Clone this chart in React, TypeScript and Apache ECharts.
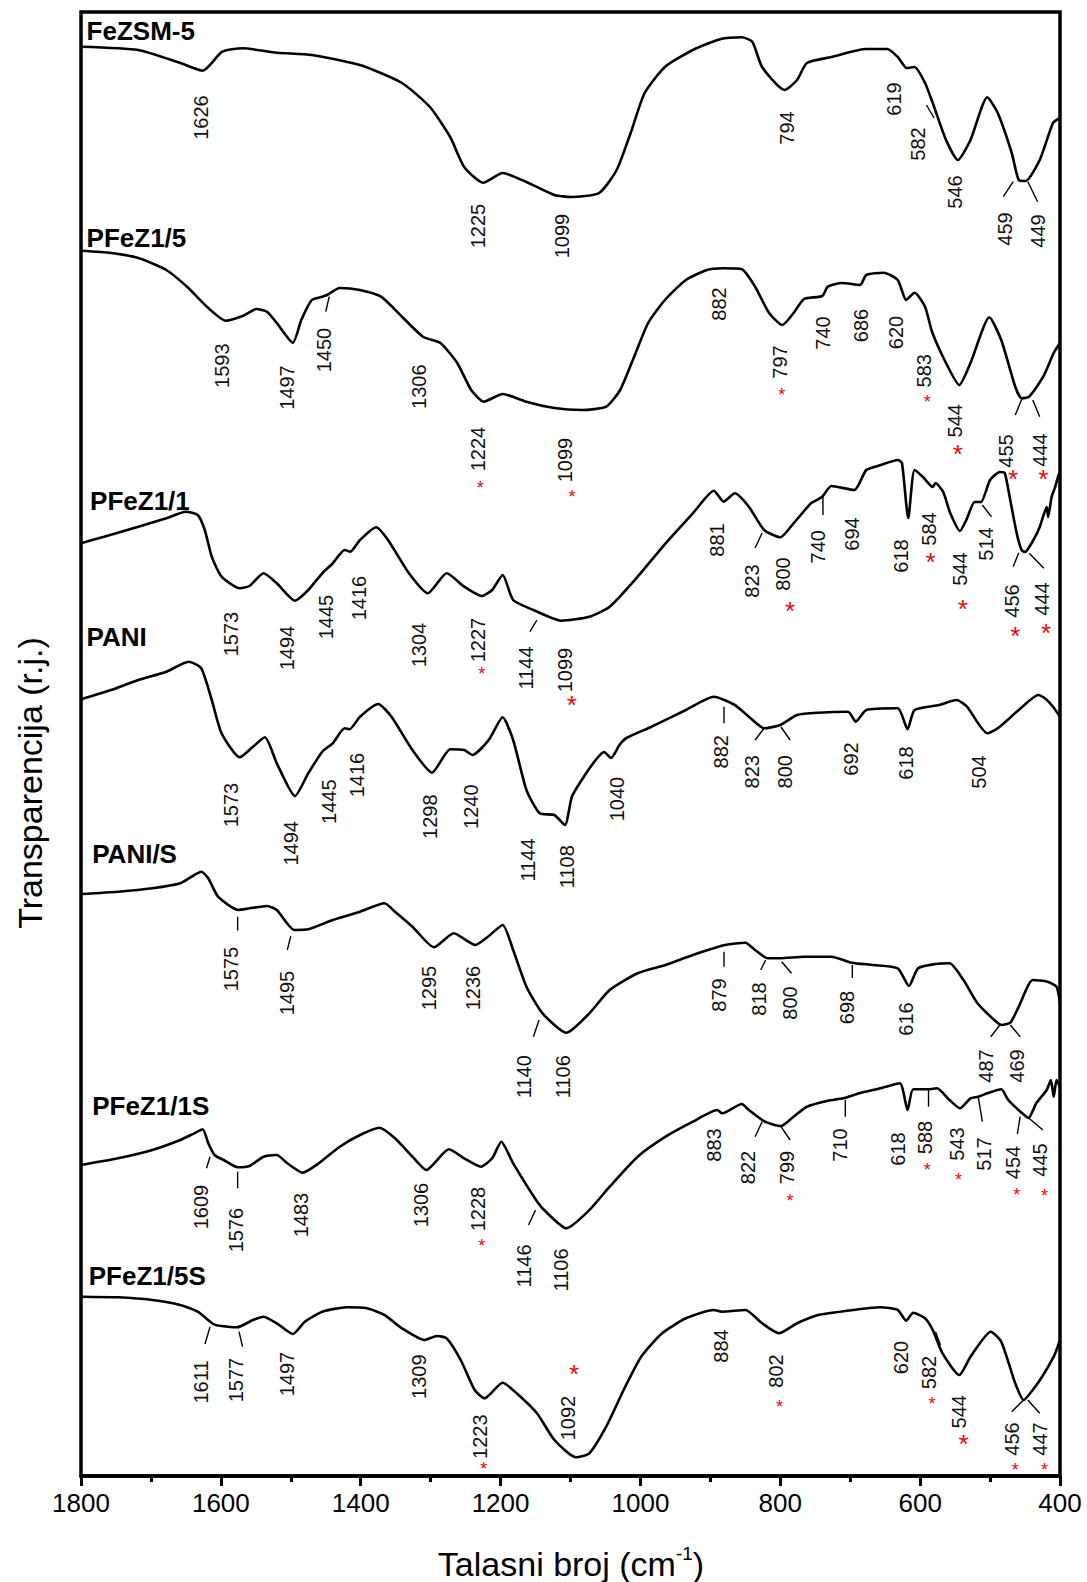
import React, { useEffect, useRef } from 'react';
import * as echarts from 'echarts';

const FONT = '"Liberation Sans", Arial, Helvetica, sans-serif';

// wavenumber (cm-1), transmittance position (relative units, axis inverted)
const feZSM5: number[][] = [[1800,46.7],[1718,50],[1658,63],[1626,70.7],[1598,51.7],[1569,48.3],[1520,52.7],[1470,55],[1401,65],[1341,83],[1301,107],[1272,137],[1252,167],[1225,182.7],[1197,173],[1163,182],[1123,195],[1099,197],[1059,193],[1034,170],[1014,133],[994,93],[965,67],[925,50],[885,39],[855,37.3],[840,41.7],[826,67],[794,90],[776,80],[762,63],[727,57],[677,49],[647,49],[632,57],[619,68],[608,67],[593,83],[582,103],[563,140],[546,160],[528,140],[504,97.3],[489,113],[469,153],[459,180],[449,181],[429,160],[410,123],[400,118]];

const pFeZ15: number[][] = [[1800,250.7],[1757,253],[1718,258],[1678,270],[1648,287],[1618,308],[1593,320.7],[1569,316],[1549,309],[1534,311.7],[1520,323],[1497,342.7],[1485,320],[1470,300],[1455,296.7],[1448,295],[1430,288],[1401,290],[1371,296.7],[1341,316.7],[1311,336.7],[1286,343],[1262,363],[1242,390],[1224,401.7],[1197,394],[1163,401.7],[1123,408],[1084,410],[1049,406.7],[1029,390],[1009,356.7],[989,323],[965,300],[935,280],[905,270],[882,268.3],[855,269.3],[836,286.7],[816,313],[797,325],[781,313],[766,299],[740,296],[732,286.7],[712,283],[686,285],[677,275],[652,272.7],[632,280],[620,300],[608,292.7],[593,306.7],[583,331.7],[563,363],[544,385],[528,363],[501,317.3],[484,340],[464,386.7],[455,398.3],[444,396.7],[424,376.7],[409,353],[400,343]];

const pFeZ11: number[][] = [[1800,543.3],[1767,536.7],[1718,526.7],[1678,518.3],[1650,511.7],[1633,515],[1623,530],[1613,556.7],[1599,576.7],[1573,588.3],[1559,586],[1539,573.3],[1520,583.3],[1494,600.7],[1475,590],[1455,573.3],[1440,563.3],[1423,550],[1415,551.7],[1401,540],[1378,527.3],[1361,540],[1331,573.3],[1304,593.3],[1277,573.3],[1252,586.7],[1227,596],[1212,590],[1197,575],[1182,600],[1153,610],[1113,620.7],[1073,616.7],[1044,606.7],[1004,576.7],[964,543.3],[925,513.3],[895,490.7],[881,501.7],[865,493.3],[845,506.7],[823,530],[800,537.3],[781,523.3],[756,503.3],[740,496.7],[727,486],[694,490],[677,470],[656,465],[632,460],[626,463],[617,518],[608,470],[596,477],[582,487],[578,483],[567,492],[557,513],[543,531],[534,520],[522,502],[513,502],[500,480],[486,472],[479,473],[472,497],[462,533],[455,550],[450,552],[438,540],[429,527],[419,507],[417,517],[412,497],[407,487],[402,475],[400,472]];

const pani: number[][] = [[1800,699.3],[1757,690],[1718,680],[1678,671.7],[1646,661.7],[1628,668.3],[1613,700],[1599,733.3],[1573,757.3],[1554,746.7],[1537,737.3],[1520,763.3],[1494,796],[1475,773.3],[1455,751.7],[1440,743.3],[1423,728.3],[1416,729.3],[1401,716.7],[1375,704],[1356,716.7],[1326,750],[1298,772.7],[1272,749.3],[1252,750],[1240,755],[1217,740],[1197,717.3],[1182,740],[1163,790],[1144,813.3],[1123,815],[1108,825],[1098,796.7],[1084,780],[1064,760],[1052,752],[1042,758],[1030,745],[1020,738],[984,726.7],[935,710],[895,696.7],[865,705],[845,716.7],[823,728.3],[800,725],[776,715],[746,712.7],[703,711.7],[692,721.7],[677,710],[632,708.3],[618,729.3],[608,710],[573,705],[548,700],[533,706.7],[504,733.3],[489,728.3],[459,710],[431,695],[420,699.3],[410,706.7],[400,716.7]];

const paniS: number[][] = [[1800,894],[1747,891.7],[1698,888.3],[1658,883.3],[1638,875],[1628,871.7],[1618,878.3],[1604,896.7],[1575,910],[1559,908.3],[1534,906],[1520,910],[1495,930],[1475,929.3],[1440,920],[1401,911.7],[1366,903.3],[1351,911.7],[1326,926.7],[1295,947.3],[1267,933.3],[1236,945],[1218,936.7],[1197,925],[1182,950],[1163,986.7],[1140,1013.3],[1106,1032.7],[1073,1013.3],[1044,990],[1004,973.3],[964,965],[925,955],[879,945],[850,942.7],[836,950],[818,958.3],[800,958.3],[766,956.7],[727,956.7],[698,962.7],[667,965],[632,968.3],[616,986],[603,968.3],[578,964],[558,963.3],[538,980],[518,1003.3],[494,1020],[484,1025],[471,1022.7],[459,1006.7],[439,980],[418,981.7],[405,986.7],[400,1003.3]];

const pFeZ11S: number[][] = [[1800,1165],[1747,1158.3],[1698,1150],[1658,1140],[1638,1133.3],[1626,1129.3],[1618,1143.3],[1609,1155],[1596,1160],[1576,1167.3],[1559,1166],[1539,1156.7],[1520,1155],[1505,1163.3],[1483,1172.7],[1460,1163.3],[1430,1146.7],[1401,1135],[1373,1127.7],[1351,1138.3],[1326,1156.7],[1306,1170],[1274,1149.3],[1252,1158.3],[1228,1166.7],[1212,1158.3],[1199,1141.7],[1182,1163.3],[1146,1203.3],[1133,1213.3],[1106,1228.3],[1073,1210],[1044,1186.7],[1004,1156.7],[964,1136.7],[925,1121.7],[890,1110],[883,1113.3],[855,1104],[845,1110],[822,1121.7],[799,1126],[781,1116.7],[762,1106.7],[732,1100.7],[710,1098.3],[687,1093.3],[657,1088.3],[629,1083.3],[618,1110],[610,1089.3],[588,1089.3],[576,1088.3],[558,1100],[543,1108.3],[528,1098.3],[517,1096.7],[504,1093.3],[484,1089.3],[474,1100],[454,1113.3],[445,1118],[434,1103.3],[419,1090],[413,1080],[409,1096.7],[405,1080],[400,1086.7]];

const pFeZ15S: number[][] = [[1800,1296.7],[1747,1297.3],[1698,1300],[1658,1305],[1633,1311.7],[1611,1324],[1599,1326],[1577,1327.3],[1554,1320],[1539,1316.7],[1520,1323.3],[1497,1334],[1480,1321.7],[1455,1311.7],[1420,1307.3],[1391,1308.3],[1366,1315],[1341,1328.3],[1309,1340],[1291,1336],[1277,1338.3],[1257,1360],[1237,1390],[1223,1398.3],[1197,1382.7],[1177,1393.3],[1148,1413.3],[1123,1440],[1092,1457.3],[1073,1453.3],[1049,1426.7],[1024,1390],[999,1356.7],[969,1333.3],[935,1318.3],[895,1310],[884,1311.7],[850,1310],[826,1323.3],[802,1333.3],[776,1323.3],[746,1315],[707,1311],[657,1307.3],[632,1310],[620,1320.7],[610,1312.7],[593,1318.3],[582,1330],[568,1353.3],[544,1375],[528,1356.7],[499,1331.7],[484,1341.7],[464,1383.3],[452,1400],[439,1390],[424,1375],[409,1356.7],[405,1350],[400,1340]];

const spectra = [feZSM5, pFeZ15, pFeZ11, pani, paniS, pFeZ11S, pFeZ15S];
const sampleNames = ['FeZSM-5', 'PFeZ1/5', 'PFeZ1/1', 'PANI', 'PANI/S', 'PFeZ1/1S', 'PFeZ1/5S'];
const namePositions: number[][] = [[1792,31],[1792,237.5],[1787,501],[1792,637],[1784,854],[1784,1106],[1789,1276]];

// peak labels: [wavenumber position, vertical position, text]
const peakLabels: [number, number, string][] = [
  [1628,117.5,'1626'],[1232,226,'1225'],[1112,236,'1099'],[791,128,'794'],[637,99,'619'],[603,144,'582'],[550,192,'546'],[479,229,'459'],[432,231,'449'],
  [1599,365.7,'1593'],[1505,387.5,'1497'],[1452,350,'1450'],[1317,386.7,'1306'],[1232,449,'1224'],[1108,460,'1099'],[888,304,'882'],[801,362,'797'],[739,333,'740'],[684,325.5,'686'],[634,332.5,'620'],[595,370.8,'583'],[550,420.8,'544'],[477,451,'455'],[429,450,'444'],
  [1586,634,'1573'],[1505,648,'1494'],[1450,617,'1445'],[1403,598,'1416'],[1316,645,'1304'],[1232,640,'1227'],[1163,668,'1144'],[1108,670,'1099'],[890,540,'881'],[840,581,'823'],[796,574,'800'],[746,546.7,'740'],[697,534,'694'],[627,556,'618'],[588,529,'584'],[543,569,'544'],[506,544,'514'],[469,601,'456'],[426,599,'444'],
  [1586,805,'1573'],[1500,843.3,'1494'],[1445,801.7,'1445'],[1405,775,'1416'],[1301,816.7,'1298'],[1242,806.7,'1240'],[1161,860,'1144'],[1105,866.7,'1108'],[1034,799,'1040'],[885,751.7,'882'],[840,771.7,'823'],[793,771.7,'800'],[699,759,'692'],[620,763,'618'],[516,772,'504'],
  [1586,969,'1575'],[1505,993,'1495'],[1303,988,'1295'],[1239,988,'1236'],[1166,1076.7,'1140'],[1111,1076.7,'1106'],[887,995,'879'],[831,999,'818'],[786,1003,'800'],[705,1007.5,'698'],[620,1019,'616'],[506,1066,'487'],[461,1066,'469'],
  [1628,1207,'1609'],[1579,1230,'1576'],[1485,1215,'1483'],[1314,1205,'1306'],[1232,1209,'1228'],[1166,1266,'1146'],[1113,1270,'1106'],[895,1145,'883'],[846,1167.5,'822'],[791,1167.5,'799'],[715,1145,'710'],[632,1149,'618'],[593,1137.5,'588'],[548,1144,'543'],[509,1154,'517'],[467,1162.5,'454'],[429,1160,'445'],
  [1628,1382,'1611'],[1579,1380,'1577'],[1505,1374,'1497'],[1316,1376.7,'1309'],[1230,1436.7,'1223'],[1103,1418,'1092'],[885,1346,'884'],[806,1371,'802'],[627,1357.5,'620'],[588,1372.5,'582'],[545,1411.7,'544'],[469,1439,'456'],[429,1439,'447'],
];

// red asterisks: [wavenumber position, vertical position, big(1)/small(0)]
const stars: number[][] = [
  [1229,484.5,0],[1098,492.6,0],[798,391,0],[590,398,0],[546,448,1],[467,473,1],[424,473,1],
  [1227,670,0],[1098,699,1],[786,605,1],[585,556,1],[539,603,1],[464,630,1],[420,627,1],
  [1227,1241.7,0],[786,1196.7,0],[590,1166,0],[545,1176,0],[462,1190.7,0],[422,1191.7,0],
  [1224,1465,0],[1095,1368.3,1],[801,1403.3,0],[583,1400,0],[538,1438.3,1],[464,1466,0],[422,1466,0],
];

// leader lines: [w1, v1, w2, v2]
const leaders: number[][] = [
  [591,105,580,118],[467,181.7,481,196.7],[446,181.7,432,201.7],
  [1445,296.7,1450,311.7],[454,398,464,415],[439,400,429,416.7],
  [1148,620,1158,631.7],[826,533,836,548],[739,496.7,739,515],[511,505,498,516.7],[459,552.7,467,566.7],[444,553.3,423,568.3],
  [880.5,706.7,880.5,723.3],[823,728,836,740],[799,727,786,740],
  [1576,916.7,1576,930.7],[1500,936,1505,950],[1145,1020,1153,1036.7],[880.5,951.7,880.5,966.7],[821,960,828,970],[798,961.7,784,973.3],[697,965,697,978],[486,1025,499,1036.7],[471,1025,457,1036.7],
  [1615.5,1156.7,1620.5,1168.3],[1576,1171.7,1576,1188.3],[1150,1210,1160,1225],[826,1121.7,836,1136.7],[799,1126.7,786,1140],[707,1100,707,1116.7],[588,1088,588,1106.7],[517,1096.7,511,1121.7],[457,1116.7,461,1134],[444.4,1118.3,424.4,1130],
  [1615.5,1327,1622.7,1344],[1574,1331.7,1569,1346.7],[578,1331.7,571,1345],[452,1400,469,1411.7],[446,1400,429,1413.3],
];

const xTicks = { min: 400, max: 1800, interval: 200 };

export default function App() {
  const ref = useRef<HTMLDivElement>(null);
  useEffect(() => {
    if (!ref.current) return;
    const chart = echarts.init(ref.current, null, { renderer: 'svg' });
    const lineSeries = spectra.map((d, i) => ({
      type: 'line',
      name: sampleNames[i],
      data: d,
      showSymbol: false,
      smooth: 0.2,
      lineStyle: { color: '#000', width: 2.6 },
      z: 2,
    }));
    chart.setOption({
      animation: false,
      backgroundColor: '#fff',
      grid: { left: 81, right: 27, top: 12, bottom: 106, show: true, borderColor: '#000', borderWidth: 3.5, backgroundColor: 'transparent' },
      xAxis: {
        type: 'value', inverse: true, min: xTicks.min, max: xTicks.max, interval: xTicks.interval,
        axisLine: { show: true, lineStyle: { color: '#000', width: 3.5 } },
        axisTick: { show: true, inside: false, length: 10, lineStyle: { color: '#000', width: 3 } },
        minorTick: { show: true, splitNumber: 2, length: 6, lineStyle: { color: '#000', width: 3 } },
        splitLine: { show: false },
        axisLabel: { color: '#000', fontSize: 26, fontFamily: FONT, margin: 14, formatter: (v: number) => String(v) },
      },
      yAxis: { type: 'value', inverse: true, min: 12, max: 1476, show: false, splitLine: { show: false } },
      graphic: [
        { type: 'text', x: 30, y: 783, rotation: Math.PI / 2, style: { text: 'Transparencija (r.j.)', fontSize: 34, fontFamily: FONT, fill: '#000', align: 'center', verticalAlign: 'middle' } },
        { type: 'text', x: 571, y: 1564, style: { text: '{a|Talasni broj (cm}{s|-1}{a|)}', align: 'center', verticalAlign: 'middle', rich: { a: { fontSize: 34, fontFamily: FONT, fill: '#000', lineHeight: 40 }, s: { fontSize: 19, fontFamily: FONT, fill: '#000', verticalAlign: 'top', lineHeight: 40 } } } },
      ],
      series: [
        ...lineSeries,
        {
          type: 'custom', clip: false, z: 5,
          data: leaders, encode: { x: [0, 2], y: [1, 3] },
          renderItem: (params: any, api: any) => {
            const d = leaders[params.dataIndex];
            const a = api.coord([d[0], d[1]]);
            const b = api.coord([d[2], d[3]]);
            return { type: 'line', shape: { x1: a[0], y1: a[1], x2: b[0], y2: b[1] }, style: { stroke: '#000', lineWidth: 1.4 } };
          },
        },
        {
          type: 'custom', clip: false, z: 6,
          data: peakLabels.map(d => [d[0], d[1]]), encode: { x: 0, y: 1 },
          renderItem: (params: any, api: any) => {
            const d = peakLabels[params.dataIndex];
            const p = api.coord([d[0], d[1]]);
            return { type: 'text', x: p[0], y: p[1], rotation: Math.PI / 2, style: { text: d[2], fontSize: 20, fontFamily: FONT, fill: '#111', align: 'center', verticalAlign: 'middle' } };
          },
        },
        {
          type: 'custom', clip: false, z: 6,
          data: stars.map(d => [d[0], d[1]]), encode: { x: 0, y: 1 },
          renderItem: (params: any, api: any) => {
            const d = stars[params.dataIndex];
            const p = api.coord([d[0], d[1]]);
            const fs = d[2] ? 26 : 18;
            return { type: 'text', x: p[0], y: p[1] + fs * 0.22, style: { text: '*', fontSize: fs, fontFamily: FONT, fill: '#ff0000', align: 'center', verticalAlign: 'middle' } };
          },
        },
        {
          type: 'custom', clip: false, z: 6,
          data: namePositions, encode: { x: 0, y: 1 },
          renderItem: (params: any, api: any) => {
            const d = namePositions[params.dataIndex];
            const p = api.coord([d[0], d[1]]);
            return { type: 'text', x: p[0], y: p[1], style: { text: sampleNames[params.dataIndex], fontSize: 26, fontWeight: 'bold', fontFamily: FONT, fill: '#000', align: 'left', verticalAlign: 'middle' } };
          },
        },
      ],
    });
    return () => chart.dispose();
  }, []);
  return <div ref={ref} style={{ position: 'absolute', left: 0, top: 0, width: 1087, height: 1582, background: '#fff' }} />;
}
